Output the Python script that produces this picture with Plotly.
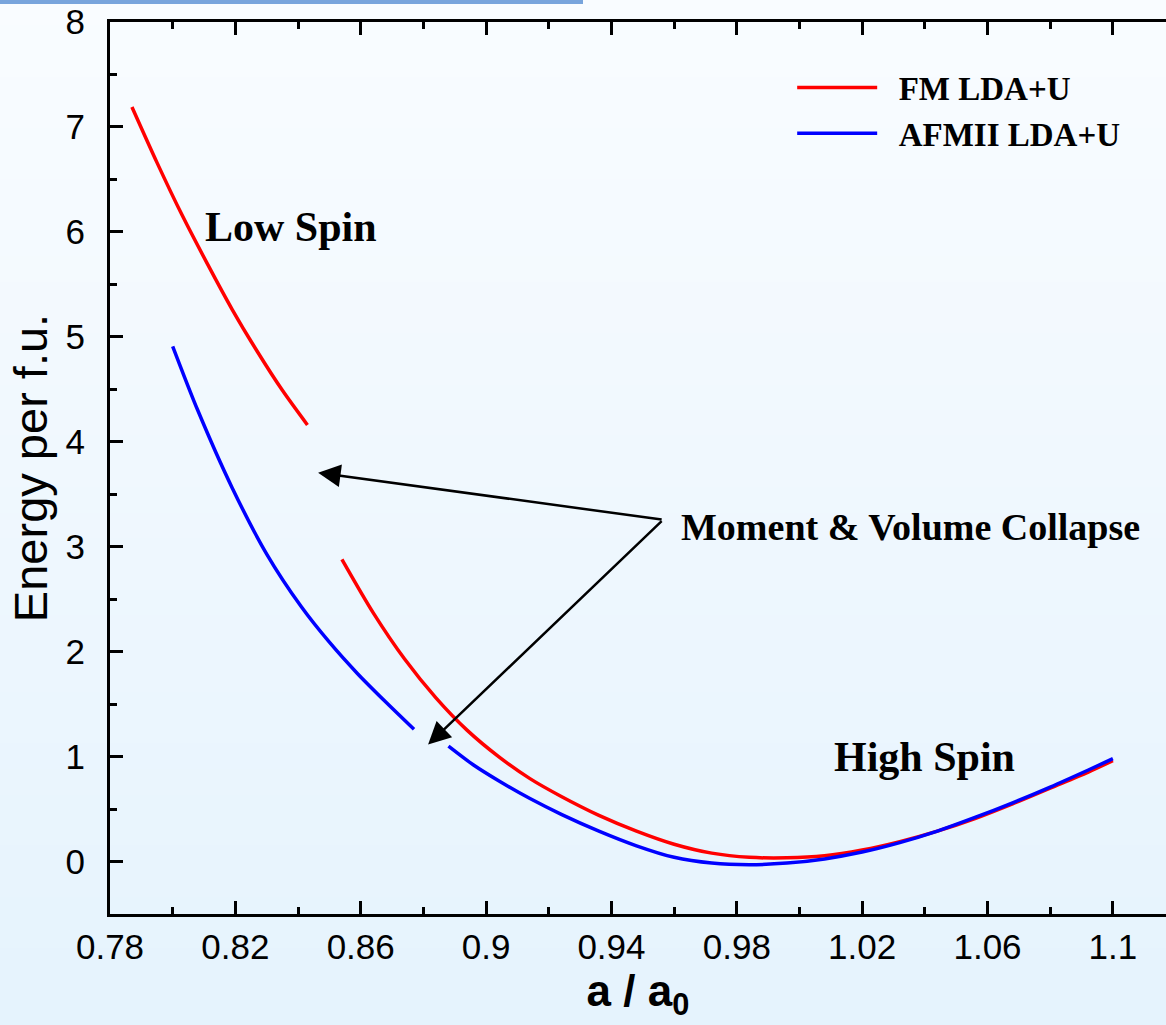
import plotly.graph_objects as go

# ---- data ----
fm_low_x = [0.787, 0.795, 0.803, 0.811, 0.819, 0.827, 0.835, 0.843]
fm_low_y = [7.19, 6.66, 6.16, 5.70, 5.26, 4.86, 4.49, 4.16]
fm_high_x = [0.854, 0.864, 0.874, 0.884, 0.894, 0.904, 0.914, 0.924, 0.936, 0.948,
             0.960, 0.972, 0.984, 0.996, 1.008, 1.020, 1.032, 1.044, 1.056, 1.068,
             1.080, 1.092, 1.100]
fm_high_y = [2.88, 2.37, 1.93, 1.56, 1.25, 1.00, 0.79, 0.62, 0.44, 0.29,
             0.165, 0.08, 0.04, 0.035, 0.055, 0.11, 0.19, 0.29, 0.41, 0.55,
             0.70, 0.85, 0.96]

af_low_x = [0.800, 0.808, 0.819, 0.830, 0.841, 0.850, 0.859, 0.868, 0.877]
af_low_y = [4.91, 4.30, 3.56, 2.93, 2.43, 2.09, 1.79, 1.52, 1.26]
af_high_x = [0.888, 0.896, 0.904, 0.914, 0.924, 0.936, 0.948, 0.960, 0.972, 0.984,
             0.996, 1.008, 1.020, 1.032, 1.044, 1.056, 1.068, 1.080, 1.092, 1.100]
af_high_y = [1.10, 0.92, 0.77, 0.60, 0.45, 0.29, 0.15, 0.04, -0.015, -0.03,
             -0.015, 0.025, 0.09, 0.18, 0.29, 0.42, 0.56, 0.71, 0.87, 0.98]

series_names = ["FM LDA+U", "AFMII LDA+U"]
x_ticks = [0.78, 0.82, 0.86, 0.90, 0.94, 0.98, 1.02, 1.06, 1.10]
x_tick_labels = ["0.78", "0.82", "0.86", "0.9", "0.94", "0.98", "1.02", "1.06", "1.1"]
y_ticks = [0, 1, 2, 3, 4, 5, 6, 7, 8]

# annotation anchor points (data coords)
low_spin_pos = (0.8378, 6.05)
high_spin_pos = (1.040, 1.00)
collapse_text_pos = (0.9615, 3.19)
collapse_tail = (0.9565, 3.257)
collapse_head1 = (0.8464, 3.705)
collapse_head2 = (0.8815, 1.114)

fig = go.Figure()

fig.add_trace(go.Scatter(
    x=fm_low_x + [None] + fm_high_x, y=fm_low_y + [None] + fm_high_y,
    mode="lines", name="\u2002" + series_names[0],
    line=dict(color="#ff0000", width=3.5, shape="spline", smoothing=0.8),
    connectgaps=False))
fig.add_trace(go.Scatter(
    x=af_low_x + [None] + af_high_x, y=af_low_y + [None] + af_high_y,
    mode="lines", name="\u2002" + series_names[1],
    line=dict(color="#0000ff", width=3.5, shape="spline", smoothing=0.8),
    connectgaps=False))

# background gradient (paper coords)
W, H = 1166, 1025
ml, mt, mb, mr = 110, 22, 111, 0
pw, ph = W - ml - mr, H - mt - mb
shapes = []
n = 40
top = (249, 252, 255)
bot = (229, 243, 253)
for i in range(n):
    f = i / (n - 1)
    c = tuple(round(top[k] + (bot[k] - top[k]) * f) for k in range(3))
    py0 = H * i / n
    py1 = H * (i + 1) / n + 1
    shapes.append(dict(type="rect", xref="paper", yref="paper", layer="below",
                       x0=-ml / pw, x1=1.0,
                       y0=(H - mb - py1) / ph, y1=(H - mb - py0) / ph,
                       fillcolor="rgb(%d,%d,%d)" % c, line=dict(width=0)))
# top blue bar
shapes.append(dict(type="rect", xref="paper", yref="paper", layer="above",
                   x0=-ml / pw, x1=(583 - ml) / pw,
                   y0=(H - mb - 4) / ph, y1=(H - mb + 1) / ph,
                   fillcolor="#78a4dc", line=dict(width=0)))

annotations = [
    dict(x=low_spin_pos[0], y=low_spin_pos[1], xref="x", yref="y", text="<b>Low Spin</b>",
         showarrow=False, font=dict(family="Liberation Serif", size=42, color="black")),
    dict(x=high_spin_pos[0], y=high_spin_pos[1], xref="x", yref="y", text="<b>High Spin</b>",
         showarrow=False, font=dict(family="Liberation Serif", size=42, color="black")),
    dict(x=collapse_text_pos[0], y=collapse_text_pos[1], xref="x", yref="y",
         text="<b>Moment &amp; Volume Collapse</b>", showarrow=False, xanchor="left",
         font=dict(family="Liberation Serif", size=38, color="black")),
]
for head in (collapse_head1, collapse_head2):
    annotations.append(dict(x=head[0], y=head[1], ax=collapse_tail[0], ay=collapse_tail[1],
                            xref="x", yref="y", axref="x", ayref="y", text="",
                            showarrow=True, arrowhead=2, arrowsize=1.8, arrowwidth=2.5,
                            arrowcolor="black"))

axis_font = dict(family="Liberation Sans, Arial", size=35, color="black")

fig.update_layout(
    width=W, height=H,
    margin=dict(l=ml, r=mr, t=mt, b=mb, autoexpand=False),
    paper_bgcolor="rgba(0,0,0,0)",
    plot_bgcolor="rgba(0,0,0,0)",
    shapes=shapes,
    annotations=annotations,
    showlegend=True,
    legend=dict(x=0.646, y=0.958, xanchor="left", yanchor="top",
                bgcolor="rgba(0,0,0,0)", itemwidth=80,
                font=dict(family="Liberation Serif", size=33, color="black", weight="bold"),
                tracegroupgap=0),
    xaxis=dict(range=[0.78, 0.78 + pw / 3134], tickvals=x_ticks, ticktext=x_tick_labels,
               ticks="inside", ticklen=13, tickwidth=2.5, tickcolor="black",
               minor=dict(dtick=0.02, tick0=0.78, ticks="inside", ticklen=7, tickwidth=2.5,
                          tickcolor="black"),
               showline=True, linecolor="black", linewidth=3, mirror="allticks",
               showgrid=False, zeroline=False, tickfont=axis_font, ticklabelstandoff=0,
               automargin=False,
               title=dict(text="<b>a / a<sub>0</sub></b>", standoff=0,
                          font=dict(family="Liberation Sans, Arial", size=44, color="black"))),
    yaxis=dict(range=[-0.5, 8], tickvals=y_ticks,
               ticks="inside", ticklen=13, tickwidth=2.5, tickcolor="black",
               minor=dict(dtick=0.5, tick0=0, ticks="inside", ticklen=7, tickwidth=2.5,
                          tickcolor="black"),
               showline=True, linecolor="black", linewidth=3, mirror=False,
               showgrid=False, zeroline=False, tickfont=axis_font, ticklabelstandoff=15,
               automargin=False,
               title=dict(text="Energy per f.u.", standoff=4,
                          font=dict(family="Liberation Sans, Arial", size=47, color="black"))),
)

fig.write_html("out.html", config={"displayModeBar": False},
               post_script="document.body.style.margin='0px';document.body.style.overflow='hidden';")
